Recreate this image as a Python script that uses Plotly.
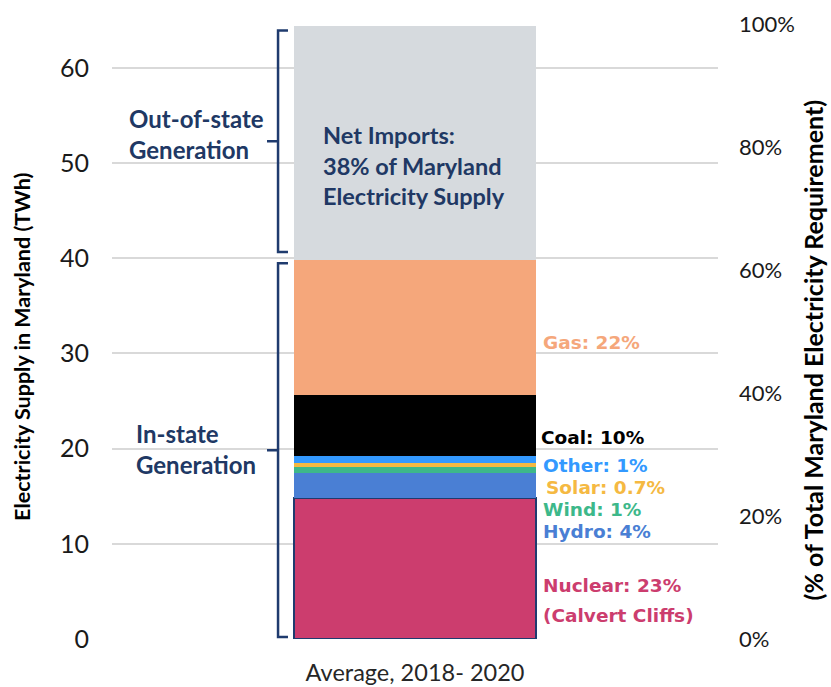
import plotly.graph_objects as go

# Maryland electricity supply, average 2018-2020
category = "Average, 2018- 2020"
TOTAL_TWH = 64.6  # total Maryland electricity requirement (100%)

sources = ["Nuclear", "Hydro", "Wind", "Solar", "Other", "Coal", "Gas", "Net Imports"]
shares_pct = [23, 4, 1, 0.7, 1, 10, 22, 38]
colors = ["#CC3D6E", "#4A7FD4", "#3DB88A", "#F5B942", "#3399FF", "#000000", "#F5A77B", "#D6DADE"]
in_state = ["Nuclear", "Hydro", "Wind", "Solar", "Other", "Coal", "Gas"]

# source labels to the right of the bar (one entry per text line)
label_texts = ["(Calvert Cliffs)", "Nuclear: 23%", "Hydro: 4%", "Wind: 1%", "Solar: 0.7%",
               "Other: 1%", "Coal: 10%", "Gas: 22%"]
label_colors = ["#CC3D6E", "#CC3D6E", "#4A7FD4", "#3DB88A", "#F5B942", "#3399FF",
                "#000000", "#F5A77B"]
label_y = [2.5, 5.65, 11.25, 13.6, 15.9, 18.2, 21.2, 31.1]
label_x = [0.709, 0.709, 0.709, 0.709, 0.714, 0.709, 0.707, 0.709]

pct_ticks = [0, 20, 40, 60, 80, 100]
pct_ticktext = [f"{v}%" for v in pct_ticks]

twh = [p / 100 * TOTAL_TWH for p in shares_pct]

NAVY = "#203864"
FONT = "Lato"
LABEL_FONT = "DejaVu Sans"

fig = go.Figure()
for name, val, col in zip(sources, twh, colors):
    fig.add_trace(go.Bar(
        x=[category], y=[val], name=name, width=0.4,
        marker=dict(color=col,
                    line=dict(color="#1F3B6E" if name == "Nuclear" else col,
                              width=2 if name == "Nuclear" else 0)),
        hoverinfo="name+y", showlegend=False,
    ))

# invisible trace to carry the percentage axis
fig.add_trace(go.Scatter(x=[category], y=[0], yaxis="y2", mode="markers",
                         marker=dict(opacity=0), showlegend=False, hoverinfo="skip"))

annotations = []
for txt, yv, xv, col in zip(label_texts, label_y, label_x, label_colors):
    annotations.append(dict(x=xv, y=yv, xref="paper", yref="y", text=f"<b>{txt}</b>",
                            showarrow=False, xanchor="left", yanchor="middle", align="left",
                            borderpad=0,
                            font=dict(family=LABEL_FONT, size=18.5, color=col)))

in_total = sum(v for n, v in zip(sources, twh) if n in in_state)
top_total = sum(twh)

annotations += [
    dict(x=0.346, y=(in_total + top_total) / 2 - 2.4, xref="paper", yref="y",
         text="<b>Net Imports:<br>38% of Maryland<br>Electricity Supply</b>", showarrow=False,
         xanchor="left", yanchor="middle", align="left", borderpad=0,
         font=dict(family=FONT, size=23.5, color=NAVY)),
    dict(x=0.027, y=53.0, xref="paper", yref="y", text="<b>Out-of-state<br>Generation</b>",
         showarrow=False, xanchor="left", yanchor="middle", align="left", borderpad=0,
         font=dict(family=FONT, size=24, color=NAVY)),
    dict(x=0.038, y=20.0, xref="paper", yref="y", text="<b>In-state<br>Generation</b>",
         showarrow=False, xanchor="left", yanchor="middle", align="left", borderpad=0,
         font=dict(family=FONT, size=24, color=NAVY)),
    dict(x=-0.1485, y=0.475, xref="paper", yref="paper",
         text="<b>Electricity Supply in Maryland (TWh)</b>",
         showarrow=False, textangle=-90, xanchor="center", yanchor="middle",
         font=dict(family=FONT, size=21.5, color="#000")),
    dict(x=1.156, y=0.47, xref="paper", yref="paper",
         text="<b>(% of Total Maryland Electricity Requirement)</b>",
         showarrow=False, textangle=-90, xanchor="center", yanchor="middle",
         font=dict(family=FONT, size=25, color="#000")),
]


def bracket(y0, y1, xv=0.274, xr=0.2904, xn=0.2558):
    ym = (y0 + y1) / 2
    path = (f"M {xr},{y1} L {xv},{y1} L {xv},{y0} L {xr},{y0} "
            f"M {xv},{ym} L {xn},{ym}")
    return dict(type="path", xref="paper", yref="y", path=path,
                line=dict(color="#1F3B6E", width=2.5))


shapes = [bracket(0.2, in_total - 0.4), bracket(in_total + 0.8, top_total - 0.5)]

fig.update_layout(
    width=831, height=687,
    margin=dict(l=112, r=113, t=24, b=48),
    paper_bgcolor="white", plot_bgcolor="white",
    barmode="stack", bargap=0.6,
    font=dict(family=FONT, color="#262626"),
    xaxis=dict(showgrid=False, showline=False, ticks="", range=[-0.5, 0.5], automargin=False,
               tickfont=dict(size=23.5, color="#262626"), ticklabelstandoff=17),
    yaxis=dict(range=[0, TOTAL_TWH], tickvals=[0, 10, 20, 30, 40, 50, 60], showgrid=True,
               gridcolor="#D9D9D9", gridwidth=1.5, zeroline=False, showline=False,
               automargin=False,
               tickfont=dict(size=25, color="#1a1a1a"), ticklabelstandoff=22),
    yaxis2=dict(overlaying="y", side="right", range=[0, 100], tickvals=pct_ticks,
                ticktext=pct_ticktext, tickmode="array", showgrid=False, zeroline=False,
                showline=False, automargin=False,
                tickfont=dict(size=22, color="#1a1a1a"), ticklabelstandoff=20),
    annotations=annotations, shapes=shapes,
)

fig.write_html("out.html")
